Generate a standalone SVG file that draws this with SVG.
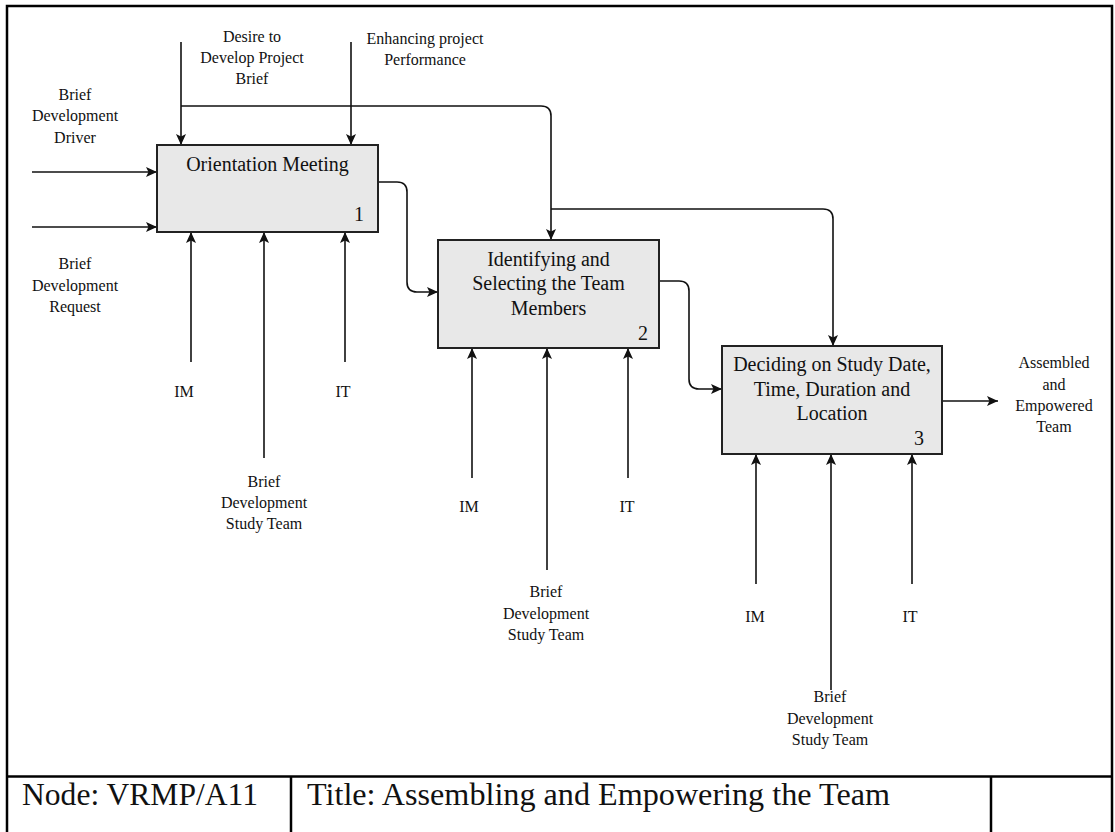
<svg xmlns="http://www.w3.org/2000/svg" width="1115" height="832" viewBox="0 0 1115 832">
  <style>
    text { font-family: "Liberation Serif", "Times New Roman", serif; fill: #111; }
    .lbl { font-size: 16px; text-anchor: middle; }
    .box { fill: #e8e8e8; stroke: #222; stroke-width: 2; }
    .title { font-size: 20px; text-anchor: middle; }
    .num { font-size: 20px; text-anchor: end; }
    .conn path { fill: none; stroke: #111; stroke-width: 1.6; marker-end: url(#arr); }
    .frame { fill: none; stroke: #000; stroke-width: 2.5; }
    .foot { font-size: 31px; }
  </style>
  <defs>
    <marker id="arr" markerWidth="12" markerHeight="12" refX="11" refY="5" orient="auto" markerUnits="userSpaceOnUse" viewBox="0 0 12 10">
      <path d="M0,0 L11,5 L0,10 L2.5,5 z" fill="#111"/>
    </marker>
  </defs>

  <rect x="0" y="0" width="1115" height="832" fill="#fff"/>

  <!-- outer frame and footer -->
  <g id="frame">
    <rect class="frame" x="7" y="6" width="1105" height="840"/>
    <line class="frame" x1="7" y1="776.5" x2="1112" y2="776.5"/>
    <line class="frame" x1="291" y1="776.5" x2="291" y2="832"/>
    <line class="frame" x1="991" y1="776.5" x2="991" y2="832"/>
    <text class="foot" x="22" y="805" textLength="236" lengthAdjust="spacingAndGlyphs">Node: VRMP/A11</text>
    <text class="foot" x="307" y="805" textLength="583" lengthAdjust="spacingAndGlyphs">Title: Assembling and Empowering the Team</text>
  </g>

  <!-- connectors -->
  <g id="connectors" class="conn">
    <path d="M32,172 H157"/>
    <path d="M32,227 H157"/>
    <path d="M181,42 V145"/>
    <path d="M351,42 V145"/>
    <path d="M181,106 H541 Q551,106 551,116 V240"/>
    <path d="M551,209 H823 Q833,209 833,219 V346"/>
    <path d="M378,182 H397 Q407,182 407,192 V282 Q407,292 417,292 H438"/>
    <path d="M659,281 H679 Q689,281 689,291 V379 Q689,389 699,389 H722"/>
    <path d="M942,401 H998"/>
    <path d="M191,362 V232"/>
    <path d="M264,458 V232"/>
    <path d="M345,362 V232"/>
    <path d="M472,478 V348"/>
    <path d="M547,570 V348"/>
    <path d="M628,478 V348"/>
    <path d="M756,584 V454"/>
    <path d="M831,690 V454"/>
    <path d="M912,584 V454"/>
  </g>

  <!-- arrow labels -->
  <g id="labels" class="lbl">
    <text x="75" y="100">Brief</text>
    <text x="75" y="121">Development</text>
    <text x="75" y="143">Driver</text>
    <text x="75" y="269">Brief</text>
    <text x="75" y="291">Development</text>
    <text x="75" y="312">Request</text>
    <text x="252" y="42">Desire to</text>
    <text x="252" y="63">Develop Project</text>
    <text x="252" y="84">Brief</text>
    <text x="425" y="44">Enhancing project</text>
    <text x="425" y="65">Performance</text>
    <text x="1054" y="368">Assembled</text>
    <text x="1054" y="390">and</text>
    <text x="1054" y="411">Empowered</text>
    <text x="1054" y="432">Team</text>
    <text x="184" y="397">IM</text>
    <text x="343" y="397">IT</text>
    <text x="264" y="487">Brief</text>
    <text x="264" y="508">Development</text>
    <text x="264" y="529">Study Team</text>
    <text x="469" y="512">IM</text>
    <text x="627" y="512">IT</text>
    <text x="546" y="597">Brief</text>
    <text x="546" y="619">Development</text>
    <text x="546" y="640">Study Team</text>
    <text x="755" y="622">IM</text>
    <text x="910" y="622">IT</text>
    <text x="830" y="702">Brief</text>
    <text x="830" y="724">Development</text>
    <text x="830" y="745">Study Team</text>
  </g>

  <!-- activity boxes -->
  <g id="node-1">
    <rect class="box" x="157" y="145" width="221" height="87"/>
    <text class="title" x="267.5" y="171">Orientation Meeting</text>
    <text class="num" x="364" y="221">1</text>
  </g>
  <g id="node-2">
    <rect class="box" x="438" y="240" width="221" height="108"/>
    <text class="title" x="548.5" y="266">Identifying and</text>
    <text class="title" x="548.5" y="290">Selecting the Team</text>
    <text class="title" x="548.5" y="315">Members</text>
    <text class="num" x="648" y="340">2</text>
  </g>
  <g id="node-3">
    <rect class="box" x="722" y="346" width="220" height="108"/>
    <text class="title" x="832" y="371">Deciding on Study Date,</text>
    <text class="title" x="832" y="396">Time, Duration and</text>
    <text class="title" x="832" y="420">Location</text>
    <text class="num" x="924" y="445">3</text>
  </g>
</svg>
